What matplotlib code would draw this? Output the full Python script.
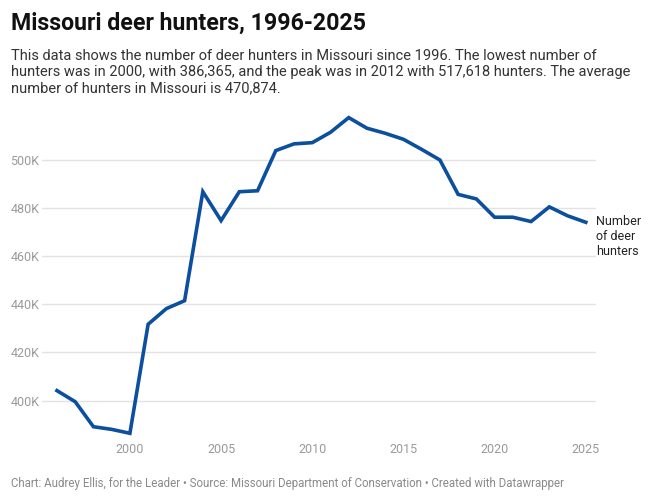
import matplotlib.pyplot as plt
from matplotlib.ticker import FuncFormatter

# Data
years = list(range(1996, 2026))
hunters = [404.1, 399.5, 389.1, 388.0, 386.365, 431.7, 438.2, 441.5, 486.8, 474.8,
           486.8, 487.2, 503.9, 506.7, 507.2, 511.5, 517.618, 513.2, 511.1, 508.6,
           504.4, 500.0, 485.7, 483.8, 476.2, 476.2, 474.4, 480.5, 476.8, 474.1]
yticks = [400, 420, 440, 460, 480, 500]
xticks = [2000, 2005, 2010, 2015, 2020, 2025]

plt.rcParams['font.family'] = ['Roboto', 'DejaVu Sans']

W, H = 652, 500
fig = plt.figure(figsize=(W / 100, H / 100), dpi=100)

# axes box in pixels
left, right, top, bottom = 42, 596, 117.6, 433.3
ax = fig.add_axes([left / W, 1 - bottom / H, (right - left) / W, (bottom - top) / H])

ax.plot(years, hunters, color='#0b4f9e', linewidth=2.6, clip_on=False,
        solid_joinstyle='miter', zorder=3)

ax.set_xlim(1995.18, 2025.56)
ax.set_ylim(386.365, 517.618)
ax.set_yticks(yticks)
ax.set_xticks(xticks)
ax.yaxis.set_major_formatter(FuncFormatter(lambda v, p: f'{int(v)}K'))
ax.grid(axis='y', color='#e3e3e3', linewidth=1)
ax.tick_params(axis='both', length=0, labelsize=9, labelcolor='#9a9a9a')
ax.tick_params(axis='y', pad=2)
ax.tick_params(axis='x', pad=7)
for s in ax.spines.values():
    s.set_visible(False)

# line label
ax.text(2025.56, 477.0, 'Number\nof deer\nhunters', fontsize=9, color='#222222',
        va='top', ha='left', linespacing=1.2,
        transform=ax.transData, clip_on=False)

# titles
fig.text(11 / W, 1 - 23 / H, 'Missouri deer hunters, 1996-2025', fontsize=16.7,
         fontweight='bold', color='#111111', va='center', ha='left')
fig.text(11 / W, 1 - 49 / H,
         'This data shows the number of deer hunters in Missouri since 1996. The lowest number of\n'
         'hunters was in 2000, with 386,365, and the peak was in 2012 with 517,618 hunters. The average\n'
         'number of hunters in Missouri is 470,874.',
         fontsize=10.55, color='#333333', va='top', ha='left', linespacing=1.18)
fig.text(11 / W, 1 - 484 / H,
         'Chart: Audrey Ellis, for the Leader \u2022 Source: Missouri Department of Conservation \u2022 Created with Datawrapper',
         fontsize=8.3, color='#8a8a8a', va='center', ha='left')

fig.savefig('out.png', dpi=100, facecolor='white')
